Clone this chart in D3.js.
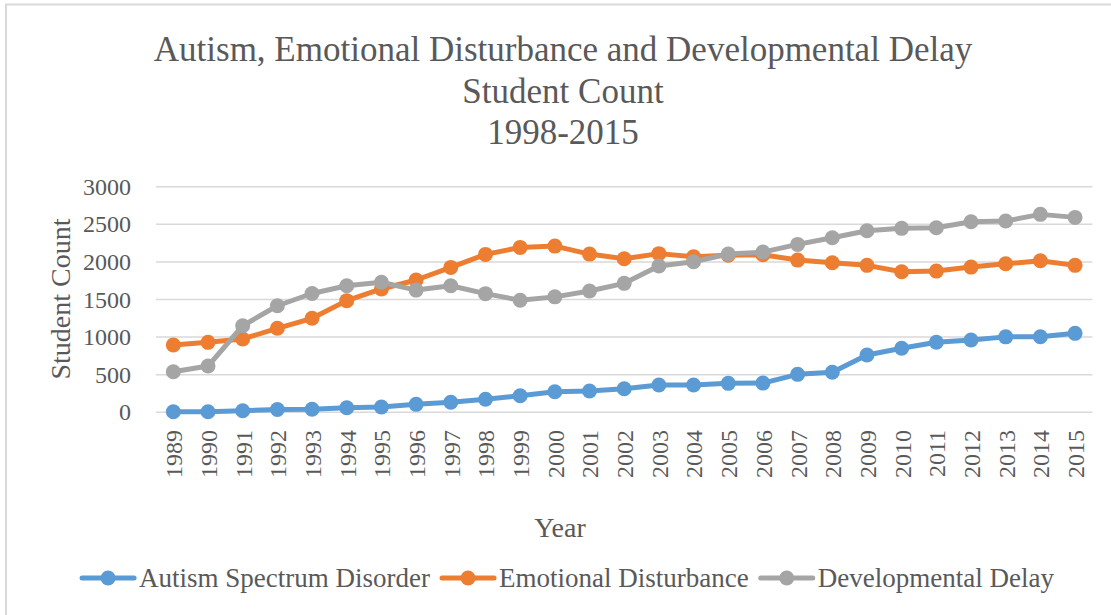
<!DOCTYPE html>
<html>
<head>
<meta charset="utf-8">
<script src="https://cdn.jsdelivr.net/npm/d3@7"></script>
<style>
	body { margin: 0; background: #fff; }
	svg { display: block; }
	svg text { font-family: "Liberation Serif", "DejaVu Serif", serif; }
</style>
</head>
<body>
<script>
(function(){

	//chart data
	var years = ["1989","1990","1991","1992","1993","1994","1995","1996","1997","1998","1999","2000","2001","2002",
		"2003","2004","2005","2006","2007","2008","2009","2010","2011","2012","2013","2014","2015"];
	var autism = [8, 8, 21, 38, 40, 61, 70, 106, 133, 173, 221, 274, 283, 314, 363, 363, 385, 388,
		505, 532, 762, 851, 931, 961, 1003, 1005, 1050];
	var emotional = [895, 930, 975, 1117, 1250, 1485, 1640, 1759, 1927, 2100, 2193, 2210, 2104, 2042, 2110,
		2068, 2088, 2095, 2024, 1989, 1954, 1869, 1878, 1931, 1975, 2015, 1954];
	var developmental = [540, 615, 1151, 1417, 1580, 1683, 1730, 1625, 1683, 1578, 1490, 1535, 1613, 1715,
		1945, 2002, 2105, 2130, 2233, 2321, 2414, 2446, 2454, 2534, 2543, 2632, 2592];
	var seriesNames = ["Autism Spectrum Disorder", "Emotional Disturbance", "Developmental Delay"];
	var seriesColors = ["#5B9BD5", "#ED7D31", "#A5A5A5"];
	var yTicks = [0, 500, 1000, 1500, 2000, 2500, 3000];
	var titleLines = ["Autism, Emotional Disturbance and Developmental Delay", "Student Count", "1998-2015"];

	var width = 1111,
		height = 615,
		textColor = "#595959",
		gridColor = "#d9d9d9";

	var svg = d3.select("body")
		.append("svg")
		.attr("width", width)
		.attr("height", height);

	//outer chart border
	svg.append("rect")
		.attr("x", 6)
		.attr("y", 4.5)
		.attr("width", width + 20)
		.attr("height", height + 20)
		.attr("fill", "none")
		.attr("stroke", gridColor)
		.attr("stroke-width", 2);

	//scales
	var xScale = d3.scalePoint()
		.domain(years)
		.range([156, 1092.4])
		.padding(0.5);
	var yScale = d3.scaleLinear()
		.domain([0, 3000])
		.range([412.3, 186.7]);

	//title
	svg.selectAll(".title")
		.data(titleLines)
		.enter()
		.append("text")
		.attr("class", "title")
		.attr("x", 563)
		.attr("y", function(d, i){ return 49 + i * 41.5; })
		.attr("dy", "0.35em")
		.attr("text-anchor", "middle")
		.attr("fill", textColor)
		.style("font-size", "35px")
		.text(function(d){ return d; });

	//gridlines
	svg.selectAll(".grid")
		.data(yTicks)
		.enter()
		.append("line")
		.attr("class", "grid")
		.attr("x1", 156)
		.attr("x2", 1092.4)
		.attr("y1", function(d){ return yScale(d); })
		.attr("y2", function(d){ return yScale(d); })
		.attr("stroke", gridColor)
		.attr("stroke-width", 1.5);

	//y axis labels
	var yAxis = d3.axisLeft(yScale)
		.tickValues(yTicks)
		.tickFormat(d3.format("d"))
		.tickSize(0)
		.tickPadding(0);
	var yAxisG = svg.append("g")
		.attr("transform", "translate(131,0)")
		.call(yAxis)
		.attr("font-family", null)
		.attr("font-size", null);
	yAxisG.select(".domain").remove();
	yAxisG.selectAll("text")
		.attr("fill", textColor)
		.style("font-size", "24px");

	//x axis labels, rotated
	var xAxis = d3.axisBottom(xScale)
		.tickSize(0)
		.tickPadding(0);
	var xAxisG = svg.append("g")
		.attr("transform", "translate(0,430)")
		.call(xAxis)
		.attr("font-family", null)
		.attr("font-size", null);
	xAxisG.select(".domain").remove();
	xAxisG.selectAll("text")
		.attr("transform", "rotate(-90)")
		.attr("x", 0)
		.attr("y", 0)
		.attr("dy", "0.35em")
		.attr("text-anchor", "end")
		.attr("fill", textColor)
		.style("font-size", "24px");

	//axis titles
	svg.append("text")
		.attr("transform", "translate(60,299) rotate(-90)")
		.attr("text-anchor", "middle")
		.attr("dy", "0.35em")
		.attr("fill", textColor)
		.style("font-size", "28px")
		.text("Student Count");
	svg.append("text")
		.attr("x", 560)
		.attr("y", 527)
		.attr("dy", "0.35em")
		.attr("text-anchor", "middle")
		.attr("fill", textColor)
		.style("font-size", "28px")
		.text("Year");

	//lines and markers
	var allSeries = [autism, emotional, developmental];
	var line = d3.line()
		.x(function(d, i){ return xScale(years[i]); })
		.y(function(d){ return yScale(d); });

	allSeries.forEach(function(values, s){
		svg.append("path")
			.datum(values)
			.attr("fill", "none")
			.attr("stroke", seriesColors[s])
			.attr("stroke-width", 5)
			.attr("stroke-linejoin", "round")
			.attr("stroke-linecap", "round")
			.attr("d", line);
		svg.selectAll(".dot" + s)
			.data(values)
			.enter()
			.append("circle")
			.attr("class", "dot" + s)
			.attr("cx", function(d, i){ return xScale(years[i]); })
			.attr("cy", function(d){ return yScale(d); })
			.attr("r", 7.5)
			.attr("fill", seriesColors[s]);
	});

	//legend
	var legendY = 578,
		swatch = 56,
		gap = 10;
	var legend = svg.append("g");
	var items = legend.selectAll(".legendItem")
		.data(seriesNames)
		.enter()
		.append("g")
		.attr("class", "legendItem");
	items.append("text")
		.attr("x", swatch + 3)
		.attr("y", legendY)
		.attr("dy", "0.35em")
		.attr("fill", textColor)
		.style("font-size", "27px")
		.text(function(d){ return d; });
	var widths = [];
	items.select("text").each(function(){ widths.push(this.getComputedTextLength()); });
	var total = d3.sum(widths) + seriesNames.length * (swatch + 3) + gap * (seriesNames.length - 1);
	var cursor = 567 - total / 2;
	items.each(function(d, i){
		var g = d3.select(this).attr("transform", "translate(" + cursor + ",0)");
		g.append("line")
			.attr("x1", 2)
			.attr("x2", swatch - 2)
			.attr("y1", legendY)
			.attr("y2", legendY)
			.attr("stroke", seriesColors[i])
			.attr("stroke-width", 5)
			.attr("stroke-linecap", "round");
		g.append("circle")
			.attr("cx", swatch / 2)
			.attr("cy", legendY)
			.attr("r", 7.5)
			.attr("fill", seriesColors[i]);
		cursor += swatch + 3 + widths[i] + gap;
	});
})();
</script>
</body>
</html>
